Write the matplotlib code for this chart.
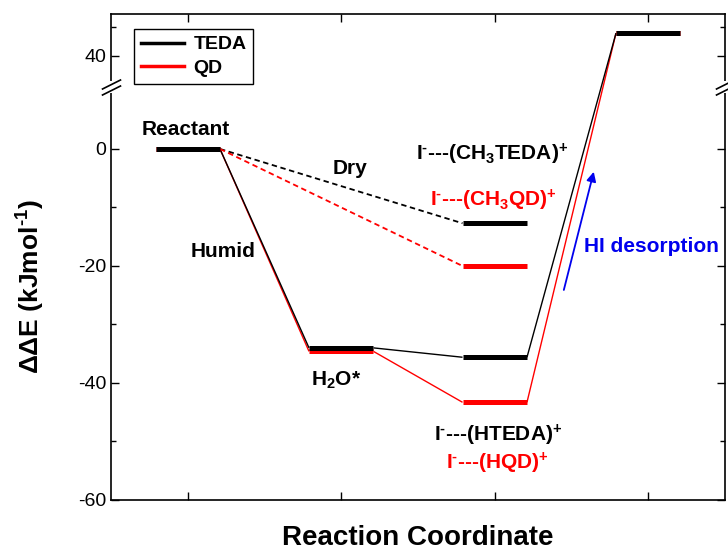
import numpy as np
import matplotlib
matplotlib.use("Agg")
import matplotlib.pyplot as plt
import matplotlib.transforms as mtransforms

plt.rcParams["font.family"] = "Liberation Sans"
plt.rcParams["mathtext.fontset"] = "custom"
plt.rcParams["mathtext.rm"] = "Liberation Sans:bold"
plt.rcParams["mathtext.bf"] = "Liberation Sans:bold"
plt.rcParams["mathtext.it"] = "Liberation Sans:bold"
plt.rcParams["axes.unicode_minus"] = False

# ---------------------------------------------------------------
# dados (kJ/mol)
estados = [0.5, 1.5, 2.5, 3.5]          # posicao de cada estado no eixo x
meia_larg = 0.21                        # meia largura dos patamares
teda_umido = [0.0, -34.0, -35.6, 48.0]
qd_umido = [0.0, -34.6, -43.3, 48.0]
teda_seco = -12.7
qd_seco = -20.0

# quebra do eixo y
Y_LO, Y_HI, K_SUP, EPS = 10.5, 29.0, 0.48, 0.01


def fwd(y):
    y = np.asarray(y, dtype=float)
    g = Y_LO + (Y_HI - Y_LO) * EPS
    return np.where(y <= Y_LO, y,
                    np.where(y <= Y_HI, Y_LO + (y - Y_LO) * EPS,
                             g + (y - Y_HI) * K_SUP))


def inv(v):
    v = np.asarray(v, dtype=float)
    g = Y_LO + (Y_HI - Y_LO) * EPS
    return np.where(v <= Y_LO, v,
                    np.where(v <= g, Y_LO + (v - Y_LO) / EPS,
                             Y_HI + (v - g) / K_SUP))


fig = plt.figure(figsize=(7.28, 5.54), dpi=100)
ax = fig.add_axes([111 / 728, 54 / 554, 614 / 728, 486 / 554])
ax.set_yscale("function", functions=(fwd, inv))

LW_NIVEL = 3.6
LW_LIG = 1.0


def conecta(x0, y0, x1, y1, cor, ls="-"):
    ax.plot([x0, x1], [y0, y1], color=cor, lw=LW_LIG if ls == "-" else 1.3,
            linestyle=ls, solid_capstyle="butt", zorder=2)


# ligacoes (umido)
for serie, cor in [(qd_umido, "red"), (teda_umido, "black")]:
    for i in range(len(estados) - 1):
        conecta(estados[i] + meia_larg, serie[i],
                estados[i + 1] - meia_larg, serie[i + 1], cor)

# ligacoes (seco)
conecta(estados[0] + meia_larg, 0, estados[2] - meia_larg, teda_seco,
        "black", (0, (3, 2)))
conecta(estados[0] + meia_larg, 0, estados[2] - meia_larg, qd_seco,
        "red", (0, (3, 2)))

# patamares
ax.hlines(qd_umido, np.array(estados) - meia_larg, np.array(estados) + meia_larg,
          color="red", lw=LW_NIVEL, zorder=3)
ax.hlines(teda_umido, np.array(estados) - meia_larg, np.array(estados) + meia_larg,
          color="black", lw=LW_NIVEL, zorder=4)
ax.hlines([qd_seco], estados[2] - meia_larg, estados[2] + meia_larg,
          color="red", lw=LW_NIVEL, zorder=3)
ax.hlines([teda_seco], estados[2] - meia_larg, estados[2] + meia_larg,
          color="black", lw=LW_NIVEL, zorder=4)

# legenda
ax.plot([], [], color="black", lw=2.5, label="TEDA")
ax.plot([], [], color="red", lw=2.5, label="QD")
leg = ax.legend(loc="upper left", bbox_to_anchor=(0.0375, 0.969), borderaxespad=0,
                fancybox=False, edgecolor="black", framealpha=1,
                prop={"weight": "bold", "size": 14}, handlelength=2.2,
                handletextpad=0.5, borderpad=0.35, labelspacing=0.3)
leg.get_frame().set_linewidth(1.0)

# textos
fs = 15
sup_m = "$^{\\text{-}}$"
ax.text(0.49, 3.4, "Reactant", ha="center", va="center", fontsize=fs, fontweight="bold")
ax.text(1.56, -3.3, "Dry", ha="center", va="center", fontsize=fs, fontweight="bold")
ax.text(0.73, -17.6, "Humid", ha="center", va="center", fontsize=fs, fontweight="bold")
ax.text(1.47, -39.5, "H$_{2}$O*", ha="center", va="center", fontsize=fs, fontweight="bold")
ax.text(2.48, -0.9, "I" + sup_m + "---(CH$_{3}$TEDA)$^{+}$", ha="center", va="center",
        fontsize=fs, fontweight="bold")
ax.text(2.49, -8.7, "I" + sup_m + "---(CH$_{3}$QD)$^{+}$", ha="center", va="center",
        fontsize=fs, fontweight="bold", color="red")
ax.text(2.52, -48.9, "I" + sup_m + "---(HTEDA)$^{+}$", ha="center", va="center",
        fontsize=fs, fontweight="bold")
ax.text(2.52, -53.7, "I" + sup_m + "---(HQD)$^{+}$", ha="center", va="center",
        fontsize=fs, fontweight="bold", color="red")
ax.text(3.52, -16.7, "HI desorption", ha="center", va="center",
        fontsize=fs, fontweight="bold", color="#0000ee")
ax.annotate("", xy=(3.145, -3.9), xytext=(2.95, -24.1),
            arrowprops=dict(arrowstyle="-|>", color="#0000ee", lw=1.3,
                            mutation_scale=14, shrinkA=0, shrinkB=0))

# eixos
ax.set_xlim(0, 4)
ax.set_ylim(-60, 54.8)
ax.set_xticks(estados)
ax.set_xticklabels([])
ax.set_yticks([-60, -40, -20, 0, 40])
ax.set_yticks([-50, -30, -10, 50], minor=True)
ax.tick_params(which="both", direction="in", top=True, right=True, width=1.0,
               labelsize=14)
ax.tick_params(which="major", length=6)
ax.tick_params(which="minor", length=3.6)
for s in ax.spines.values():
    s.set_linewidth(1.2)

ax.set_xlabel("Reaction Coordinate", fontsize=20, fontweight="bold")
ax.xaxis.set_label_coords(0.5, -0.052)
ax.set_ylabel("ΔΔE (kJmol$^{\\text{-1}}$)", fontsize=19, fontweight="bold")
ax.yaxis.set_label_coords(-0.105, 0.438)

# marcas de quebra
y_quebra = (Y_LO + Y_HI) / 2
for xs in (0, 1):
    tr = mtransforms.blended_transform_factory(ax.transAxes, ax.transData)
    ax.plot([xs, xs], [y_quebra, y_quebra], color="white", lw=0,
            marker=[(0, -1), (0, 1)], markersize=8, markeredgewidth=3,
            markeredgecolor="white", transform=tr, clip_on=False, zorder=6)
    for dy in (-3, 3):
        off = mtransforms.ScaledTranslation(0, dy / 100, fig.dpi_scale_trans)
        ax.plot([xs], [y_quebra], lw=0, marker=[(-1, -0.5), (1, 0.5)],
                markersize=14, markeredgewidth=1.2, markeredgecolor="black",
                transform=tr + off, clip_on=False, zorder=7)

fig.savefig("out.png", dpi=100)
